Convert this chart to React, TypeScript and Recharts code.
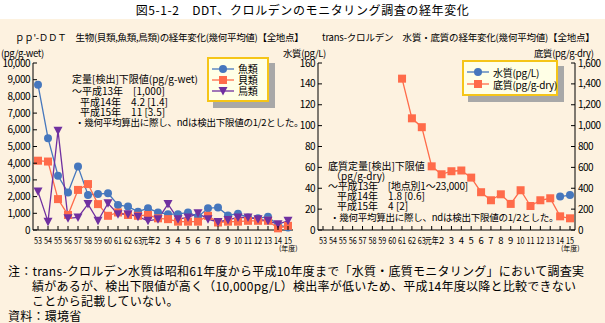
import { LineChart, Line, XAxis, YAxis, Legend } from 'recharts'

const years = ['53', '54', '55', '56', '57', '58', '59', '60', '61', '62', '63', '元年', '2', '3', '4', '5', '6', '7', '8', '9', '10', '11', '12', '13', '14', '15']

// pp'-DDT 生物 (pg/g-wet)
const fish = [8700, 5500, 3250, 2250, 3800, 2100, 2150, 2200, 1500, 1400, 1100, 1300, 1050, 950, 950, 1050, 800, 1300, 1350, 870, 980, 750, 700, 800, 300, 150]
const shellfish = [4150, 4100, 1850, 900, 2400, 2750, 1550, 850, 1050, 900, 850, 900, 700, 650, 500, 500, 500, 850, 450, 500, 500, 550, 550, 550, 100, 250]
const birds = [2300, 500, 5950, 700, 750, 1550, 550, 1600, 950, 950, 800, 550, 650, 1550, 650, 750, 1000, 650, 480, 600, 750, 750, 650, 550, 350, 550]

// trans-クロルデン
const water: (number | null)[] = [null, null, null, null, null, null, null, null, null, null, null, null, null, null, null, null, null, null, null, null, null, null, null, null, 32, 33.5]
const sediment: (number | null)[] = [null, null, null, null, null, null, null, null, 1450, 1070, 985, 610, 534, 563, 570, 502, 362, 285, 342, 250, 381, 230, 285, 304, 131, 112]

const leftTicks = [0, 1000, 2000, 3000, 4000, 5000, 6000, 7000, 8000, 9000, 10000]
const waterTicks = [0, 20, 40, 60, 80, 100, 120, 140, 160]
const sedimentTicks = [0, 200, 400, 600, 800, 1000, 1200, 1400, 1600]

const bioData = years.map((year, i) => ({ year, fish: fish[i], shellfish: shellfish[i], birds: birds[i] }))
const chlordaneData = years.map((year, i) => ({ year, water: water[i], sediment: sediment[i] }))

const FONT = "'Noto Sans CJK JP', 'Noto Sans', sans-serif"
const BLUE = '#4677bd'
const ORANGE = '#ff6b4a'
const PURPLE = '#7030a0'
const BG = '#fdf2e0'

const fmt = (v: number) => v.toLocaleString('en-US')

type Shape = 'circle' | 'square' | 'triangle'
const shapes: Record<string, Shape> = {
  fish: 'circle',
  shellfish: 'square',
  birds: 'triangle',
  water: 'circle',
  sediment: 'square',
}
const legendOrder = ['fish', 'shellfish', 'birds', 'water', 'sediment']

function Marker({ cx, cy, shape, color }: { cx: number; cy: number; shape: Shape; color: string }) {
  if (shape === 'circle') return <circle cx={cx} cy={cy} r={4} fill={color} />
  if (shape === 'square') return <rect x={cx - 4} y={cy - 4} width={8} height={8} fill={color} />
  return <path d={`M${cx - 4.5},${cy - 4} L${cx + 4.5},${cy - 4} L${cx},${cy + 4.5} Z`} fill={color} />
}

const dotFor = (shape: Shape, color: string) => (props: any) => {
  const { cx, cy, index } = props
  if (cx == null || cy == null || props.value == null) return <g key={`d-${index}`} />
  return <Marker key={`d-${index}`} cx={cx} cy={cy} shape={shape} color={color} />
}

const XTick = ({ x, y, payload }: any) => {
  const v = String(payload.value)
  const len = v === '元年' ? 14 : v.length === 2 ? 8 : undefined
  return (
    <g>
      <line x1={x} y1={y} x2={x} y2={y - 4} stroke="#000" />
      <text
        x={x}
        y={y + 13.5}
        textAnchor="middle"
        fontSize={9.5}
        fontFamily={FONT}
        fill="#000"
        textLength={len}
        lengthAdjust={len ? 'spacingAndGlyphs' : undefined}
      >
        {v}
      </text>
    </g>
  )
}

const YTickLeft = ({ x, y, payload }: any) => (
  <g>
    <line x1={x} y1={y} x2={x + 4} y2={y} stroke="#000" />
    <text x={x - 3} y={y + 3.5} textAnchor="end" fontSize={10} fontFamily={FONT} letterSpacing={-0.5} fill="#000">
      {fmt(payload.value)}
    </text>
  </g>
)

const YTickRight = ({ x, y, payload }: any) => (
  <g>
    <line x1={x} y1={y} x2={x - 4} y2={y} stroke="#000" />
    <text x={x + 3} y={y + 3.5} textAnchor="start" fontSize={10} fontFamily={FONT} letterSpacing={-0.5} fill="#000">
      {fmt(payload.value)}
    </text>
  </g>
)

function BoxLegend({ payload, width, rowGap }: any) {
  const items = [...(payload || [])].sort(
    (a: any, b: any) => legendOrder.indexOf(a.dataKey) - legendOrder.indexOf(b.dataKey),
  )
  return (
    <div style={{ position: 'relative', width }}>
      <div style={{ position: 'absolute', left: 6, top: 6, right: -6, bottom: -6, background: '#a8a8a8' }} />
      <div
        style={{
          position: 'relative',
          background: '#ffffe6',
          border: '2px solid #f5c518',
          padding: '4px 0 4px 3px',
          fontFamily: FONT,
          fontSize: 10,
          color: '#000',
          whiteSpace: 'nowrap',
        }}
      >
        {items.map((p: any) => {
          const key = p.dataKey as string
          return (
            <div key={key} style={{ display: 'flex', alignItems: 'center', height: rowGap }}>
              <svg width={22} height={10} style={{ marginRight: 4, flex: 'none' }}>
                <line x1={0} y1={5} x2={22} y2={5} stroke={p.color} strokeWidth={1.3} />
                <Marker cx={11} cy={5} shape={shapes[key]} color={p.color} />
              </svg>
              <span style={{ letterSpacing: -0.3 }}>{p.value}</span>
            </div>
          )
        })}
      </div>
    </div>
  )
}

const txt = (left: number, cy: number, text: string, size = 10, extra: React.CSSProperties = {}) => (
  <div
    style={{
      position: 'absolute',
      left,
      top: cy - size * 0.65,
      fontSize: size,
      lineHeight: `${size * 1.3}px`,
      whiteSpace: 'nowrap',
      color: '#000',
      ...extra,
    }}
  >
    {text}
  </div>
)

export default function App() {
  return (
    <div style={{ position: 'relative', width: 605, height: 323, background: BG, fontFamily: FONT, overflow: 'hidden' }}>
      <style>{'body{margin:0}'}</style>
      <div style={{ position: 'absolute', left: 0, top: 0, width: 605, height: 19, background: '#fff' }} />
      <div style={{ position: 'absolute', left: 0, top: 2, width: 605, textAlign: 'center', fontSize: 12, lineHeight: '15px', letterSpacing: 0.6 }}>
        図5-1-2　DDT、クロルデンのモニタリング調査の経年変化
      </div>

      {/* left chart */}
      <div style={{ position: 'absolute', left: 0, top: 0 }}>
        <LineChart width={300} height={250} data={bioData} margin={{ top: 63, right: 7, left: 0, bottom: 0 }}>
          <XAxis
            dataKey="year"
            height={20}
            padding={{ left: 5, right: 5 }}
            interval={0}
            tickSize={0}
            tickMargin={0}
            tick={<XTick />}
            axisLine={{ stroke: '#000' }}
          />
          <YAxis
            width={33}
            domain={[0, 10000]}
            ticks={leftTicks}
            interval={0}
            tickSize={0}
            tickMargin={0}
            tick={<YTickLeft />}
            axisLine={{ stroke: '#000' }}
          />
          <Legend
            layout="horizontal"
            verticalAlign="middle"
            align="center"
            wrapperStyle={{ left: 207, top: 57, width: 62 }}
            content={(props: any) => <BoxLegend {...props} width={62} rowGap={11} />}
          />
          <Line dataKey="fish" name="魚類" stroke={BLUE} strokeWidth={1.3} dot={dotFor('circle', BLUE)} isAnimationActive={false} />
          <Line dataKey="shellfish" name="貝類" stroke={ORANGE} strokeWidth={1.3} dot={dotFor('square', ORANGE)} isAnimationActive={false} />
          <Line dataKey="birds" name="鳥類" stroke={PURPLE} strokeWidth={1.3} dot={dotFor('triangle', PURPLE)} isAnimationActive={false} />
        </LineChart>
      </div>

      {/* right chart */}
      <div style={{ position: 'absolute', left: 280, top: 0 }}>
        <LineChart width={325} height={250} data={chlordaneData} margin={{ top: 63, right: 0, left: 0, bottom: 0 }}>
          <XAxis
            dataKey="year"
            height={20}
            padding={{ left: 5, right: 5 }}
            interval={0}
            tickSize={0}
            tickMargin={0}
            tick={<XTick />}
            axisLine={{ stroke: '#000' }}
          />
          <YAxis
            yAxisId="water"
            width={38}
            domain={[0, 160]}
            ticks={waterTicks}
            interval={0}
            tickSize={0}
            tickMargin={0}
            tick={<YTickLeft />}
            axisLine={{ stroke: '#000' }}
          />
          <YAxis
            yAxisId="sediment"
            orientation="right"
            width={30}
            domain={[0, 1600]}
            ticks={sedimentTicks}
            interval={0}
            tickSize={0}
            tickMargin={0}
            tick={<YTickRight />}
            axisLine={{ stroke: '#000' }}
          />
          <Legend
            layout="horizontal"
            verticalAlign="middle"
            align="center"
            wrapperStyle={{ left: 182, top: 60, width: 96 }}
            content={(props: any) => <BoxLegend {...props} width={96} rowGap={12} />}
          />
          <Line yAxisId="water" dataKey="water" name="水質(pg/L)" stroke={BLUE} strokeWidth={1.3} dot={dotFor('circle', BLUE)} isAnimationActive={false} />
          <Line yAxisId="sediment" dataKey="sediment" name="底質(pg/g-dry)" stroke={ORANGE} strokeWidth={1.3} dot={dotFor('square', ORANGE)} isAnimationActive={false} />
        </LineChart>
      </div>

      {/* subtitles & units */}
      {txt(15, 37, "ｐｐ'-ＤＤＴ　生物(貝類,魚類,鳥類)の経年変化(幾何平均値)【全地点】", 9.5, { letterSpacing: -0.3 })}
      {txt(322, 37, 'trans-クロルデン　水質・底質の経年変化(幾何平均値)【全地点】', 9.5, { letterSpacing: -0.2 })}
      {txt(1, 53, '(pg/g-wet)', 9.5, { letterSpacing: -0.4 })}
      {txt(283, 53, '水質(pg/L)', 9.5, { letterSpacing: -0.4 })}
      {txt(534, 53, '底質(pg/g-dry)', 9.5, { letterSpacing: -0.4 })}
      {txt(279, 249, '(年度)', 7)}
      {txt(561, 249, '(年度)', 7)}

      {/* left annotation */}
      {txt(72, 78, '定量[検出]下限値(pg/g-wet)', 10)}
      {txt(72, 90, '～平成13年　[1,000]', 10)}
      {txt(80, 101, '平成14年　4.2 [1.4]', 10)}
      {txt(80, 111, '平成15年　11 [3.5]', 10)}
      {txt(75, 122, '・幾何平均算出に際し、ndは検出下限値の1/2とした。', 9.5, { letterSpacing: -0.25 })}

      {/* right annotation */}
      {txt(328, 165, '底質定量[検出]下限値', 10)}
      {txt(331, 175, '（pg/g-dry)', 10)}
      {txt(328, 185, '～平成13年　[地点別1～23,000]', 10, { letterSpacing: -0.2 })}
      {txt(337, 195, '平成14年　1.8 [0.6]', 10)}
      {txt(337, 205, '平成15年　4 [2]', 10)}
      {txt(330, 217, '・幾何平均算出に際し、ndは検出下限値の1/2とした。', 9.5, { letterSpacing: -0.25 })}

      {/* notes */}
      {txt(8, 271, '注：trans-クロルデン水質は昭和61年度から平成10年度まで「水質・底質モニタリング」において調査実', 12, { letterSpacing: 0.25 })}
      {txt(32, 286, '績があるが、検出下限値が高く（10,000pg/L）検出率が低いため、平成14年度以降と比較できない', 12, { letterSpacing: 0.25 })}
      {txt(32, 301, 'ことから記載していない。', 12, { letterSpacing: 0.25 })}
      {txt(8, 316, '資料：環境省', 12, { letterSpacing: 0.25 })}
    </div>
  )
}
